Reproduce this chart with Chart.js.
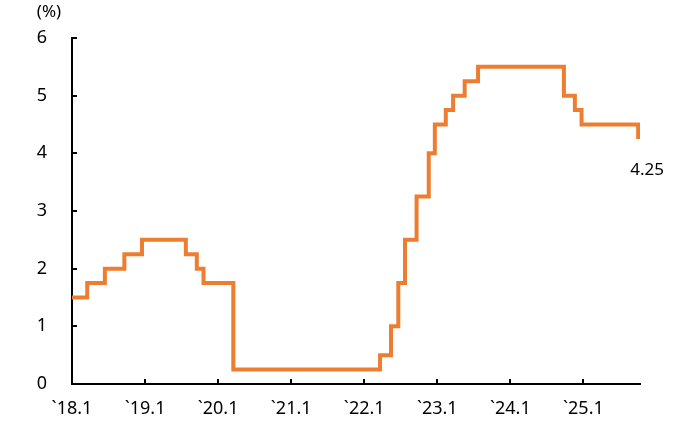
<!DOCTYPE html>
<html>
<head>
<meta charset="utf-8">
<script src="https://cdn.jsdelivr.net/npm/chart.js@4"></script>
<style>
  body { margin: 0; background: #fff; }
  canvas { display: block; }
</style>
</head>
<body>
<canvas id="rate_chart" width="677" height="431"></canvas>
<script>
// months since Jan 2018 where the rate changes, and the rate from then on
var changeMonths = [0, 2.5, 5.4, 8.6, 11.5, 18.7, 20.5, 21.6, 26.5, 50.6, 52.4, 53.6, 54.7, 56.6, 58.6, 59.6, 61.4, 62.6, 64.5, 66.7, 80.8, 82.6, 83.7, 93]
var rates = [1.5, 1.75, 2.0, 2.25, 2.5, 2.25, 2.0, 1.75, 0.25, 0.5, 1.0, 1.75, 2.5, 3.25, 4.0, 4.5, 4.75, 5.0, 5.25, 5.5, 5.0, 4.75, 4.5, 4.25]
var xTickMonths = [0, 12, 24, 36, 48, 60, 72, 84]
var xTickLabels = ['`18.1', '`19.1', '`20.1', '`21.1', '`22.1', '`23.1', '`24.1', '`25.1']
var yTicks = [0, 1, 2, 3, 4, 5, 6]
var unitLabel = '(%)'
var lastLabel = '4.25'

var FONT = "'Noto Sans', sans-serif"

var points = changeMonths.map((m, i) => ({x: m, y: rates[i]}))

var extras = {
  id: 'extras',
  afterDraw(chart) {
    var ctx = chart.ctx
    var xs = chart.scales.x, ys = chart.scales.y
    ctx.save()
    ctx.strokeStyle = '#000'
    ctx.lineWidth = 2
    // inward tick marks
    yTicks.forEach(v => {
      var py = Math.round(ys.getPixelForValue(v))
      ctx.beginPath(); ctx.moveTo(xs.left, py); ctx.lineTo(xs.left + 5, py); ctx.stroke()
    })
    xTickMonths.forEach(v => {
      var px = Math.round(xs.getPixelForValue(v))
      ctx.beginPath(); ctx.moveTo(px, ys.bottom); ctx.lineTo(px, ys.bottom - 5); ctx.stroke()
    })
    ctx.fillStyle = '#000'
    ctx.textAlign = 'center'
    ctx.textBaseline = 'middle'
    ctx.font = '17px ' + FONT
    ctx.fillText(unitLabel, 49, 12)
    var lx = xs.getPixelForValue(changeMonths[changeMonths.length - 1])
    var ly = ys.getPixelForValue(rates[rates.length - 1])
    ctx.fillText(lastLabel, lx + 9, ly + 31)
    ctx.restore()
  }
}

var config = {
  type: 'line',
  data: {
    datasets: [{
      data: points,
      borderColor: '#ED7D31',
      borderWidth: 4,
      stepped: 'before',
      pointRadius: 0,
      fill: false
    }]
  },
  options: {
    responsive: false,
    animation: false,
    layout: {padding: {left: 0, top: 38, right: 37, bottom: 0}},
    plugins: {legend: {display: false}, tooltip: {enabled: false}},
    scales: {
      x: {
        type: 'linear',
        min: 0,
        max: 93.3,
        afterBuildTicks: s => { s.ticks = xTickMonths.map(v => ({value: v})) },
        afterFit: s => { s.height = 47 },
        ticks: {
          callback: (v) => xTickLabels[xTickMonths.indexOf(v)],
          color: '#000',
          font: {family: FONT, size: 18},
          padding: 14,
          maxRotation: 0,
          autoSkip: false
        },
        grid: {drawOnChartArea: false, drawTicks: false},
        border: {color: '#000', width: 2}
      },
      y: {
        min: 0,
        max: 6,
        afterBuildTicks: s => { s.ticks = yTicks.map(v => ({value: v})) },
        afterFit: s => { s.width = 72 },
        ticks: {
          color: '#000',
          font: {family: FONT, size: 18},
          padding: 25
        },
        grid: {drawOnChartArea: false, drawTicks: false},
        border: {color: '#000', width: 2}
      }
    }
  },
  plugins: [extras]
}

new Chart(document.getElementById('rate_chart'), config)
</script>
</body>
</html>
